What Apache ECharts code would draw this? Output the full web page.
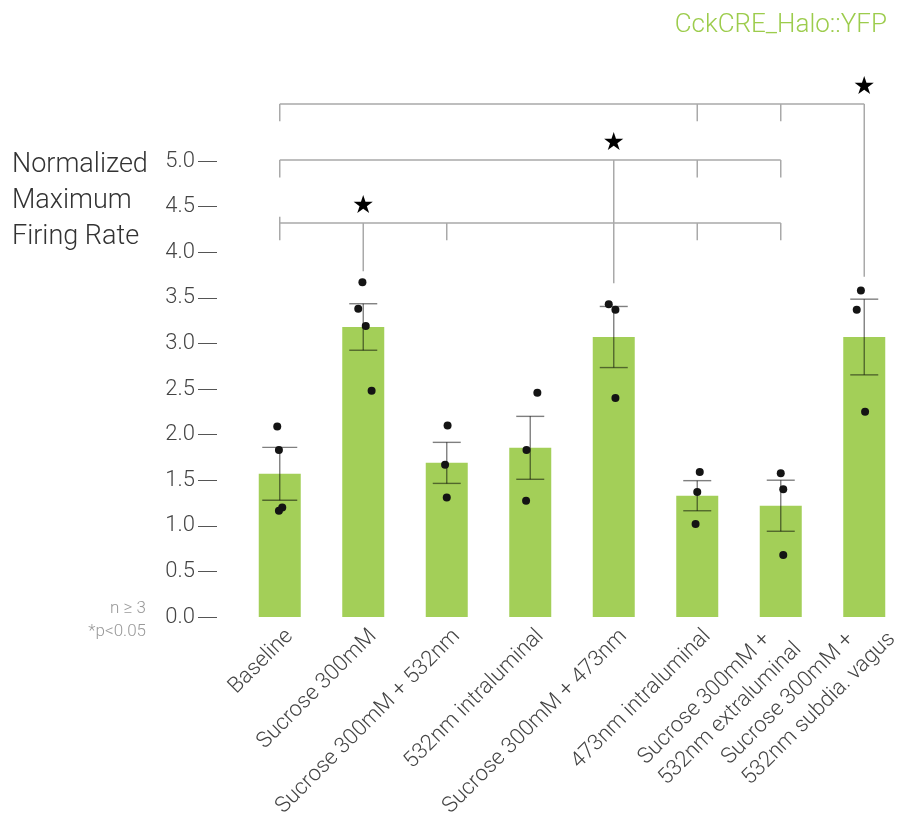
<!DOCTYPE html>
<html>
<head>
<meta charset="utf-8">
<title>CckCRE_Halo::YFP – Normalized Maximum Firing Rate</title>
<script src="https://cdn.jsdelivr.net/npm/echarts@6/dist/echarts.min.js"></script>
<style>
  html, body { margin: 0; padding: 0; background: #ffffff; }
  #chart { width: 906px; height: 818px; }
</style>
</head>
<body>
<div id="chart"></div>
<script>
// ---- data -------------------------------------------------------------
const categories = [
  'Baseline',
  'Sucrose 300mM',
  'Sucrose 300mM + 532nm',
  '532nm intraluminal',
  'Sucrose 300mM + 473nm',
  '473nm intraluminal',
  'Sucrose 300mM +\n532nm extraluminal',
  'Sucrose 300mM +\n532nm subdia. vagus'
];

// mean normalized maximum firing rate per condition
const means = [1.57, 3.18, 1.69, 1.855, 3.07, 1.33, 1.22, 3.07];

// standard error of the mean per condition
const sem = [0.29, 0.255, 0.225, 0.345, 0.335, 0.165, 0.28, 0.415];

// individual recordings: [condition index + small horizontal jitter, value]
const points = [
  [-0.03, 2.09], [-0.01, 1.83], [0.03, 1.20], [-0.01, 1.165],
  [0.99, 3.67], [0.94, 3.38], [1.03, 3.19], [1.10, 2.48],
  [2.01, 2.10], [1.98, 1.67], [2.00, 1.31],
  [3.085, 2.46], [2.955, 1.83], [2.95, 1.275],
  [3.94, 3.43], [4.02, 3.37], [4.02, 2.40],
  [5.03, 1.59], [5.00, 1.37], [4.98, 1.02],
  [6.00, 1.575], [6.03, 1.40], [6.03, 0.68],
  [6.96, 3.58], [6.91, 3.37], [7.01, 2.25]
];

// significance comparisons (p < 0.05): bracket level, span, tick columns,
// the condition that differs and where its drop line ends
const comparisons = [
  { level: 4.32, from: 0, to: 6, ticks: [2, 5, 6], target: 1, dropTo: 3.79 },
  { level: 5.01, from: 0, to: 6, ticks: [5, 6], target: 4, dropTo: 3.66 },
  { level: 5.625, from: 0, to: 7, ticks: [5, 6], target: 7, dropTo: 3.73 }
];

const yTicks = [0, 0.5, 1, 1.5, 2, 2.5, 3, 3.5, 4, 4.5, 5];

// ---- styles -----------------------------------------------------------
const FONT = 'Roboto, "Open Sans", "Liberation Sans", sans-serif';
const BAR_COLOR = '#a3cf58';
const BRACKET_COLOR = '#a9a9a9';
const TEXT_COLOR = '#444444';
const capWidths = [35, 28, 28, 28, 28, 28, 28, 28];

// category label layout (rotated 45°, line 1 ends near the bar foot,
// a second line sits underneath and starts where the first one starts)
const LABEL_FONT = '300 22px ' + FONT;
const LABEL_DX = 10;
const LABEL_DY = 16;
const LABEL_LINE_H = 29;
const LABEL_MULTI_BACK = 19;

const measureCtx = document.createElement('canvas').getContext('2d');
function textWidth(str, font) {
  measureCtx.font = font;
  return measureCtx.measureText(str).width;
}

const chart = echarts.init(document.getElementById('chart'), null, { renderer: 'canvas' });

const option = {
  backgroundColor: '#ffffff',
  animation: false,
  title: {
    text: 'CckCRE_Halo::YFP',
    right: 14,
    top: 7,
    textStyle: { fontFamily: FONT, fontWeight: 300, fontSize: 26, color: '#9ccc4c' }
  },
  graphic: [
    {
      type: 'text',
      left: 12,
      top: 147,
      style: {
        text: 'Normalized\nMaximum\nFiring Rate',
        font: '300 27px ' + FONT,
        lineHeight: 36,
        fill: '#333333'
      }
    },
    {
      type: 'text',
      x: 146,
      y: 597,
      style: {
        text: 'n \u2265 3\n*p<0.05',
        font: '300 17px ' + FONT,
        lineHeight: 23,
        fill: '#999999',
        align: 'right'
      }
    }
  ],
  grid: { left: 238, top: 161, width: 672, height: 456, containLabel: false },
  xAxis: [
    {
      type: 'category',
      data: categories,
      boundaryGap: true,
      axisLine: { show: false },
      axisTick: { show: false },
      axisLabel: { show: false }
    },
    {
      type: 'value',
      min: -0.5,
      max: 7.5,
      show: false
    }
  ],
  yAxis: {
    type: 'value',
    min: 0,
    max: 5,
    interval: 0.5,
    offset: 21,
    splitLine: { show: false },
    axisLine: { show: false, onZero: false },
    axisTick: { show: true, length: 19, lineStyle: { color: '#555555', width: 1 } },
    axisLabel: {
      margin: 22,
      fontFamily: FONT,
      fontWeight: 300,
      fontSize: 22,
      color: TEXT_COLOR,
      formatter: v => (yTicks.indexOf(v) >= 0 ? v.toFixed(1) : '')
    }
  },
  series: [
    {
      name: 'mean',
      type: 'bar',
      data: means,
      barWidth: 42,
      itemStyle: { color: BAR_COLOR },
      z: 1
    },
    {
      name: 'sem',
      type: 'custom',
      data: means.map((m, i) => [i, m, sem[i]]),
      encode: { x: 0, y: 1 },
      z: 3,
      renderItem: function (params, api) {
        const i = api.value(0);
        const m = api.value(1);
        const e = api.value(2);
        const hi = api.coord([i, m + e]);
        const lo = api.coord([i, m - e]);
        const half = capWidths[params.dataIndex] / 2;
        const style = { stroke: 'rgba(0,0,0,0.5)', lineWidth: 1.4, fill: null };
        return {
          type: 'group',
          children: [
            { type: 'line', shape: { x1: hi[0], y1: hi[1], x2: lo[0], y2: lo[1] }, style },
            { type: 'line', shape: { x1: hi[0] - half, y1: hi[1], x2: hi[0] + half, y2: hi[1] }, style },
            { type: 'line', shape: { x1: lo[0] - half, y1: lo[1], x2: lo[0] + half, y2: lo[1] }, style }
          ]
        };
      }
    },
    {
      name: 'recordings',
      type: 'scatter',
      xAxisIndex: 1,
      data: points,
      symbol: 'circle',
      symbolSize: 8,
      itemStyle: { color: '#141414', opacity: 1 },
      z: 4
    },
    {
      name: 'category labels',
      type: 'custom',
      clip: false,
      silent: true,
      data: categories.map((c, i) => [i, 0]),
      encode: { x: 0, y: 1 },
      z: 5,
      renderItem: function (params, api) {
        const label = categories[params.dataIndex];
        const lines = label.split('\n');
        const foot = api.coord([api.value(0), 0]);
        const w1 = textWidth(lines[0], LABEL_FONT);
        const multi = lines.length > 1;
        return {
          type: 'text',
          x: foot[0] + LABEL_DX,
          y: foot[1] + LABEL_DY,
          rotation: Math.PI / 4,
          style: {
            text: label,
            font: LABEL_FONT,
            lineHeight: LABEL_LINE_H,
            fill: TEXT_COLOR,
            align: 'left',
            verticalAlign: 'middle',
            x: -w1 - (multi ? LABEL_MULTI_BACK : 0),
            y: 0
          }
        };
      }
    },
    {
      name: 'significance',
      type: 'custom',
      xAxisIndex: 1,
      clip: false,
      data: comparisons.map(c => [c.from, c.level]),
      encode: { x: 0, y: 1 },
      z: 2,
      renderItem: function (params, api) {
        const c = comparisons[params.dataIndex];
        const tickDrop = 0.19;
        const style = { stroke: BRACKET_COLOR, lineWidth: 1.5, fill: null };
        const seg = (a, b) => ({
          type: 'line',
          shape: { x1: a[0], y1: a[1], x2: b[0], y2: b[1] },
          style
        });
        const left = api.coord([c.from, c.level]);
        const right = api.coord([c.to, c.level]);
        const children = [seg(left, right)];
        // end and intermediate ticks
        const tickCols = [c.from].concat(c.ticks);
        tickCols.forEach(col => {
          if (col === c.target) return;
          const top = api.coord([col, c.level]);
          const bot = api.coord([col, c.level - tickDrop]);
          children.push(seg(top, bot));
        });
        if (params.dataIndex === 0) {
          // left end of the lowest bracket also rises a little
          children.push(seg(api.coord([c.from, c.level]), api.coord([c.from, c.level + 0.07])));
        }
        // drop line to the differing condition
        children.push(seg(api.coord([c.target, c.level]), api.coord([c.target, c.dropTo])));
        // significance star
        const star = api.coord([c.target, c.level + 0.18]);
        children.push({
          type: 'text',
          x: star[0],
          y: star[1],
          style: {
            text: '\u2605',
            font: '25px "DejaVu Sans", sans-serif',
            fill: '#000000',
            align: 'center',
            verticalAlign: 'middle'
          }
        });
        return { type: 'group', children };
      }
    }
  ]
};

chart.setOption(option);
</script>
</body>
</html>
